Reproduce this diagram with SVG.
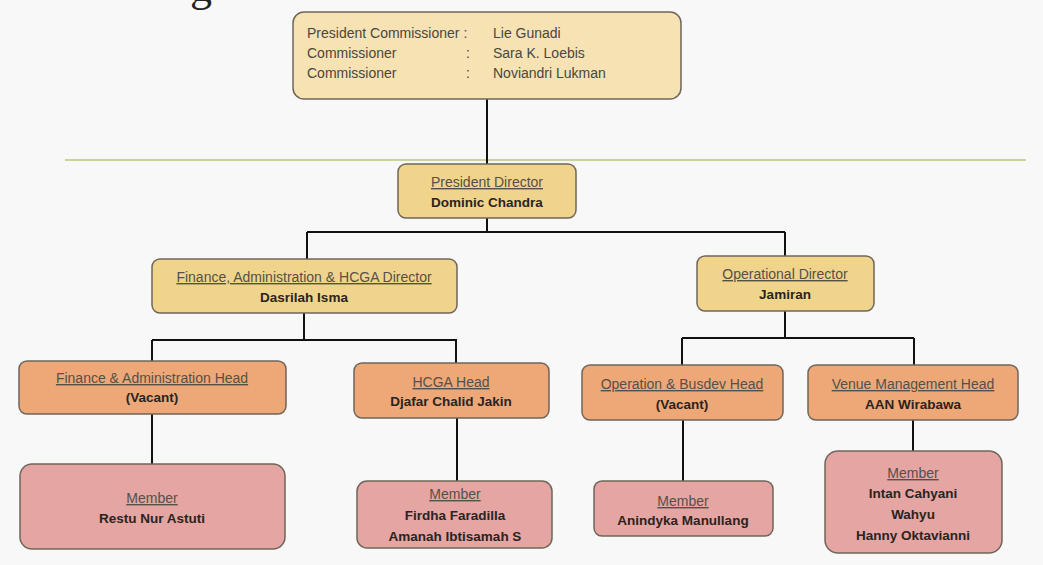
<svg xmlns="http://www.w3.org/2000/svg" width="1043" height="565" viewBox="0 0 1043 565">
<style>
text{font-family:"Liberation Sans",Arial,sans-serif;font-size:14px}
.t{fill:#555048;text-decoration:underline}
.n{fill:#2a2420;font-weight:bold;font-size:13.5px}
.c{fill:#4a4640}
.box{stroke:#6e665a;stroke-width:1.5}
.top{fill:#f6e2b3}
.dir{fill:#f1d48c}
.head{fill:#eea878}
.mem{fill:#e5a5a3}
.ln{stroke:#111;stroke-width:2;fill:none}
</style>
<rect width="1043" height="565" fill="#f8f8f8"/>
<text x="190" y="1" style="font-family:'Liberation Serif',serif;font-size:44px" fill="#222">g</text>
<line x1="65" y1="160" x2="1026" y2="160" stroke="#b9c97c" stroke-width="1.5"/>
<g id="connectors">
<path class="ln" d="M487 99V164"/>
<path class="ln" d="M487 218V232M307 232H785M307 232V259M785 232V256"/>
<path class="ln" d="M304 313V340M152 340H457M152 340V361M456 340V363"/>
<path class="ln" d="M785 311V338M682 338H914M682 338V365M914 338V365"/>
<path class="ln" d="M152 414V464M457 418V481M683 420V481M913 420V451"/>
</g>
<g id="commissioners">
<rect class="box top" x="293" y="12" width="388" height="87" rx="11"/>
<text class="c" x="307" y="38">President Commissioner :</text>
<text class="c" x="493" y="38">Lie Gunadi</text>
<text class="c" x="307" y="58">Commissioner</text>
<text class="c" x="466" y="58">:</text>
<text class="c" x="493" y="58">Sara K. Loebis</text>
<text class="c" x="307" y="78">Commissioner</text>
<text class="c" x="466" y="78">:</text>
<text class="c" x="493" y="78">Noviandri Lukman</text>
</g>
<g id="president-director" text-anchor="middle">
<rect class="box dir" x="398" y="164" width="178" height="54" rx="8"/>
<text class="t" x="487" y="187">President Director</text>
<text class="n" x="487" y="207">Dominic Chandra</text>
</g>
<g id="finance-director" text-anchor="middle">
<rect class="box dir" x="152" y="259" width="305" height="54" rx="8"/>
<text class="t" x="304" y="282">Finance, Administration &amp; HCGA Director</text>
<text class="n" x="304" y="302">Dasrilah Isma</text>
</g>
<g id="operational-director" text-anchor="middle">
<rect class="box dir" x="697" y="256" width="177" height="55" rx="8"/>
<text class="t" x="785" y="279">Operational Director</text>
<text class="n" x="785" y="299">Jamiran</text>
</g>
<g id="finance-head" text-anchor="middle">
<rect class="box head" x="19" y="361" width="267" height="53" rx="8"/>
<text class="t" x="152" y="383">Finance &amp; Administration Head</text>
<text class="n" x="152" y="402">(Vacant)</text>
</g>
<g id="hcga-head" text-anchor="middle">
<rect class="box head" x="354" y="363" width="195" height="55" rx="8"/>
<text class="t" x="451" y="387">HCGA Head</text>
<text class="n" x="451" y="406">Djafar Chalid Jakin</text>
</g>
<g id="operation-head" text-anchor="middle">
<rect class="box head" x="582" y="365" width="201" height="55" rx="8"/>
<text class="t" x="682" y="389">Operation &amp; Busdev Head</text>
<text class="n" x="682" y="409">(Vacant)</text>
</g>
<g id="venue-head" text-anchor="middle">
<rect class="box head" x="808" y="365" width="210" height="55" rx="8"/>
<text class="t" x="913" y="389">Venue Management Head</text>
<text class="n" x="913" y="409">AAN Wirabawa</text>
</g>
<g id="finance-members" text-anchor="middle">
<rect class="box mem" x="20" y="464" width="265" height="85" rx="12"/>
<text class="t" x="152" y="503">Member</text>
<text class="n" x="152" y="523">Restu Nur Astuti</text>
</g>
<g id="hcga-members" text-anchor="middle">
<rect class="box mem" x="357" y="481" width="195" height="67" rx="10"/>
<text class="t" x="455" y="499">Member</text>
<text class="n" x="455" y="520">Firdha Faradilla</text>
<text class="n" x="455" y="541">Amanah Ibtisamah S</text>
</g>
<g id="operation-members" text-anchor="middle">
<rect class="box mem" x="594" y="481" width="179" height="55" rx="8"/>
<text class="t" x="683" y="506">Member</text>
<text class="n" x="683" y="525">Anindyka Manullang</text>
</g>
<g id="venue-members" text-anchor="middle">
<rect class="box mem" x="825" y="451" width="177" height="102" rx="13"/>
<text class="t" x="913" y="478">Member</text>
<text class="n" x="913" y="498">Intan Cahyani</text>
<text class="n" x="913" y="519">Wahyu</text>
<text class="n" x="913" y="540">Hanny Oktavianni</text>
</g>
</svg>
